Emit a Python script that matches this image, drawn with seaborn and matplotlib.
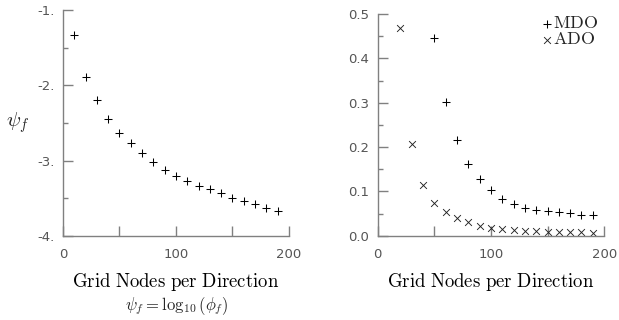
import matplotlib
matplotlib.use("Agg")
import matplotlib.pyplot as plt
import seaborn as sns
import pandas as pd
from matplotlib.ticker import FixedLocator, FixedFormatter, NullFormatter

# Convergence of the field error with grid resolution
nodes_psi = [10, 20, 30, 40, 50, 60, 70, 80, 90, 100, 110, 120, 130, 140, 150, 160, 170, 180, 190]
psi_f = [-1.33, -1.89, -2.19, -2.44, -2.63, -2.77, -2.90, -3.02, -3.12, -3.20,
         -3.27, -3.33, -3.38, -3.43, -3.49, -3.54, -3.58, -3.63, -3.67]

nodes_mdo = [50, 60, 70, 80, 90, 100, 110, 120, 130, 140, 150, 160, 170, 180, 190]
mdo = [0.445, 0.302, 0.217, 0.163, 0.128, 0.103, 0.083, 0.071, 0.062, 0.058,
       0.056, 0.054, 0.052, 0.048, 0.047]

nodes_ado = [20, 30, 40, 50, 60, 70, 80, 90, 100, 110, 120, 130, 140, 150, 160, 170, 180, 190]
ado = [0.468, 0.206, 0.114, 0.073, 0.054, 0.040, 0.032, 0.023, 0.018, 0.015,
       0.013, 0.011, 0.010, 0.0095, 0.009, 0.008, 0.008, 0.0075]

left_yticks = [-1, -2, -3, -4]
left_ylabels = ["-1.", "-2.", "-3.", "-4."]
right_yticks = [0.0, 0.1, 0.2, 0.3, 0.4, 0.5]
right_ylabels = ["0.0", "0.1", "0.2", "0.3", "0.4", "0.5"]
xticks = [0, 100, 200]
xlabels = ["0", "100", "200"]

sns.set_theme(style="white")
plt.rcParams["mathtext.fontset"] = "cm"
plt.rcParams["font.family"] = ["DejaVu Sans"]

SPINE = "#808080"
TICKTXT = "#555555"

fig = plt.figure(figsize=(6.19, 3.20), dpi=100)
ax1 = fig.add_axes([0.1018, 0.2625, 0.365, 0.706])
ax2 = fig.add_axes([0.610, 0.263, 0.366, 0.693])

df_psi = pd.DataFrame({"n": nodes_psi, "v": psi_f})
df_mdo = pd.DataFrame({"n": nodes_mdo, "v": mdo, "s": "MDO"})
df_ado = pd.DataFrame({"n": nodes_ado, "v": ado, "s": "ADO"})

sns.scatterplot(data=df_psi, x="n", y="v", marker="+", s=34, color="black",
                linewidth=0.75, ax=ax1, legend=False)
sns.scatterplot(data=df_mdo, x="n", y="v", marker="+", s=34, color="black",
                linewidth=0.75, ax=ax2, label="MDO")
sns.scatterplot(data=df_ado, x="n", y="v", marker="x", s=24, color="#222222",
                linewidth=0.65, ax=ax2, label="ADO")

label_kw = dict(fontsize=13.5, color="black")
for ax in (ax1, ax2):
    ax.set_xlim(0, 200)
    for side in ("top", "right"):
        ax.spines[side].set_visible(False)
    for side in ("left", "bottom"):
        ax.spines[side].set_color(SPINE)
        ax.spines[side].set_linewidth(1.0)
    ax.xaxis.set_major_locator(FixedLocator(xticks))
    ax.xaxis.set_major_formatter(FixedFormatter(xlabels))
    ax.xaxis.set_minor_locator(FixedLocator([50, 150]))
    ax.xaxis.set_minor_formatter(NullFormatter())
    ax.tick_params(axis="both", which="both", direction="in", color=SPINE,
                   width=1.0, labelsize=9.5, labelcolor=TICKTXT,
                   bottom=True, left=True, top=False, right=False)
    ax.tick_params(axis="x", which="both", length=7, pad=9)
    ax.tick_params(axis="y", which="major", length=7, pad=6)
    ax.tick_params(axis="y", which="minor", length=3.5)
    ax.set_xlabel(r"$\mathrm{Grid\ Nodes\ per\ Direction}$", labelpad=7, **label_kw)
    ax.set_ylabel("")

ax1.set_ylim(-4, -1)
ax1.yaxis.set_major_locator(FixedLocator(left_yticks))
ax1.yaxis.set_major_formatter(FixedFormatter(left_ylabels))
ax1.yaxis.set_minor_locator(FixedLocator([-1.5, -2.5, -3.5]))
ax1.set_ylabel(r"$\psi_f$", rotation=0, fontsize=15, labelpad=14, va="center")

ax2.set_ylim(0, 0.5)
ax2.yaxis.set_major_locator(FixedLocator(right_yticks))
ax2.yaxis.set_major_formatter(FixedFormatter(right_ylabels))
ax2.yaxis.set_minor_locator(FixedLocator([0.05, 0.15, 0.25, 0.35, 0.45]))

leg = ax2.legend(loc="upper right", frameon=False, handletextpad=0.1,
                 handlelength=0.5, borderaxespad=0.0, labelspacing=-0.1,
                 markerscale=1.0, bbox_to_anchor=(1.0, 1.03))
for t in leg.get_texts():
    t.set_text(r"$\mathrm{%s}$" % t.get_text())
    t.set_fontsize(13)

fig.text(0.285, 0.008, r"$\psi_f = \log_{10}\left(\phi_f\right)$", ha="center",
         va="bottom", fontsize=12)

fig.savefig("out.png", dpi=100, facecolor="white")
